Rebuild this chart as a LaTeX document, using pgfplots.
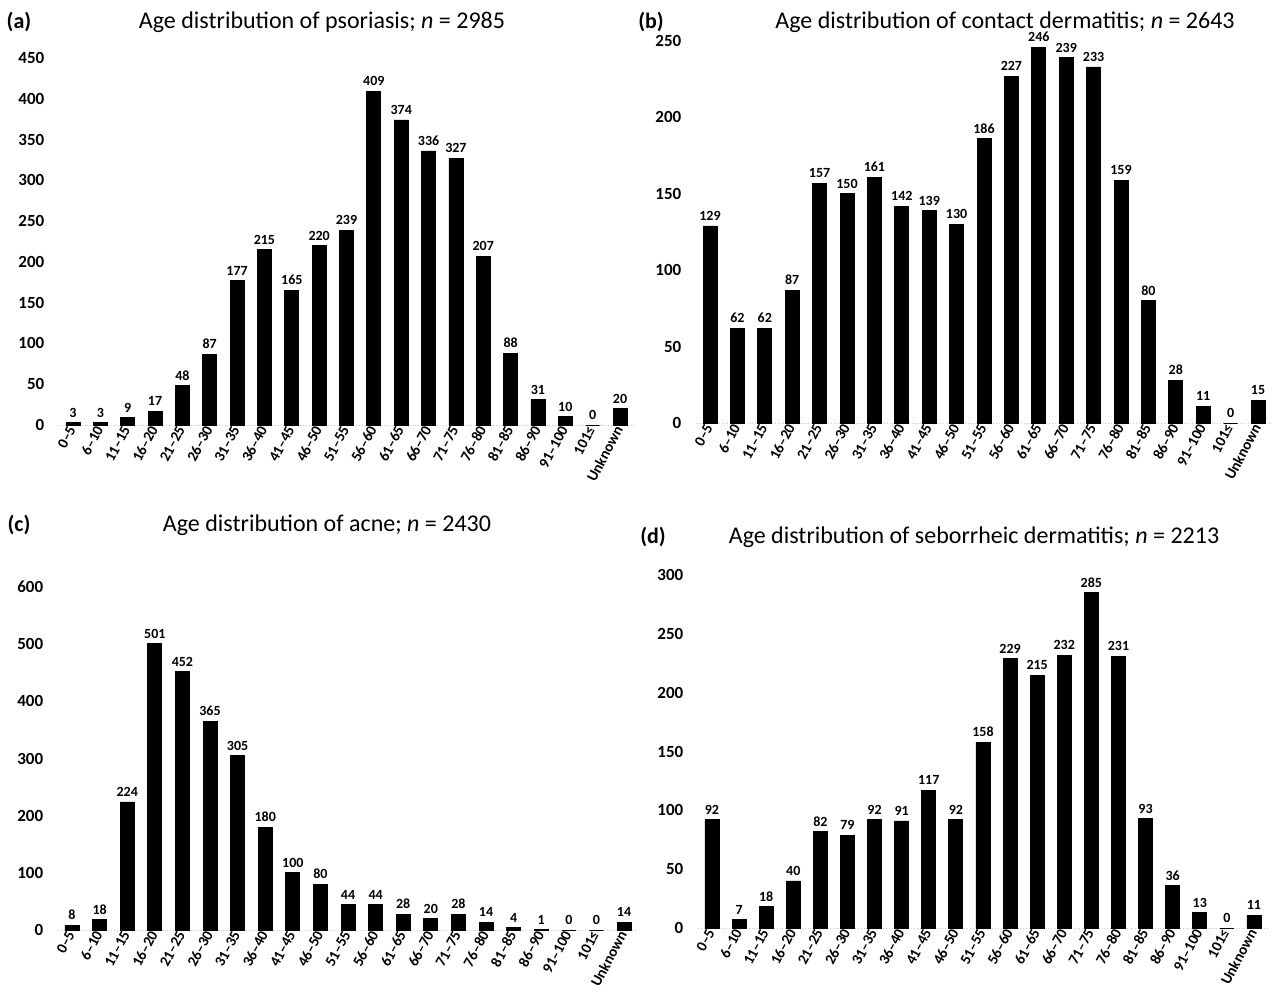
\documentclass[border=0pt]{standalone}
\usepackage{fontspec}
\setmainfont{Carlito}
\usepackage{pgfplots}
\pgfplotsset{compat=1.18}
\pgfplotsset{
  panel/.style={
    scale only axis,
    anchor=south west,
    xmin=-0.5, xmax=20.5, ymin=0,
    clip=false,
    axis line style={draw=none},
    major tick length=0pt,
    xtick={0,...,20},
    xticklabels={0--5,6--10,11--15,16--20,21--25,26--30,31--35,36--40,41--45,46--50,51--55,56--60,61--65,66--70,71--75,76--80,81--85,86--90,91--100,101≤,Unknown},
    xticklabel style={rotate=62, anchor=east, font=\bfseries\fontsize{7.5}{8}\selectfont, inner sep=1pt},
    yticklabel style={font=\bfseries\fontsize{8.5}{9}\selectfont},
    /pgf/number format/assume math mode=true,
    /pgf/number format/1000 sep={},
    yticklabel style={xshift=-4pt},
    nodes near coords,
    every node near coord/.append style={font=\bfseries\fontsize{7}{7.5}\selectfont, inner sep=2.5pt},
  },
  blackbar/.style={ybar, bar width=7pt, fill=black, draw=black, bar shift=0pt},
}
\begin{document}
\begin{tikzpicture}
\useasboundingbox (0,0) rectangle (638.5pt,-496.5pt);
% (a)
\begin{axis}[panel, at={(29.65pt,-212.5pt)}, width=287.2pt, height=183.5pt, ymax=450, ytick={0,50,...,450}]
\draw[gray!40, densely dotted] (axis cs:-0.5,0) -- (axis cs:20.5,0);
\addplot[blackbar] coordinates {(0,3)(1,3)(2,9)(3,17)(4,48)(5,87)(6,177)(7,215)(8,165)(9,220)(10,239)(11,409)(12,374)(13,336)(14,327)(15,207)(16,88)(17,31)(18,10)(19,0)(20,20)};
\end{axis}
% (b)
\begin{axis}[panel, at={(348.15pt,-211.5pt)}, width=287.7pt, height=191pt, ymax=250, ytick={0,50,...,250}]
\draw[gray!40, densely dotted] (axis cs:-0.5,0) -- (axis cs:20.5,0);
\addplot[blackbar] coordinates {(0,129)(1,62)(2,62)(3,87)(4,157)(5,150)(6,161)(7,142)(8,139)(9,130)(10,186)(11,227)(12,246)(13,239)(14,233)(15,159)(16,80)(17,28)(18,11)(19,0)(20,15)};
\end{axis}
% (c)
\begin{axis}[panel, at={(29.1pt,-465pt)}, width=289.8pt, height=171.5pt, ymax=600, ytick={0,100,...,600}]
\draw[gray!40, densely dotted] (axis cs:-0.5,0) -- (axis cs:20.5,0);
\addplot[blackbar] coordinates {(0,8)(1,18)(2,224)(3,501)(4,452)(5,365)(6,305)(7,180)(8,100)(9,80)(10,44)(11,44)(12,28)(13,20)(14,28)(15,14)(16,4)(17,1)(18,0)(19,0)(20,14)};
\end{axis}
% (d)
\begin{axis}[panel, at={(349.2pt,-464pt)}, width=284.55pt, height=176.5pt, ymax=300, ytick={0,50,...,300}]
\draw[gray!40, densely dotted] (axis cs:-0.5,0) -- (axis cs:20.5,0);
\addplot[blackbar] coordinates {(0,92)(1,7)(2,18)(3,40)(4,82)(5,79)(6,92)(7,91)(8,117)(9,92)(10,158)(11,229)(12,215)(13,232)(14,285)(15,231)(16,93)(17,36)(18,13)(19,0)(20,11)};
\end{axis}
% titles and panel labels
\node[font=\bfseries\fontsize{11}{12}\selectfont] at (9.5pt,-11pt) {(a)};
\node[font=\bfseries\fontsize{11}{12}\selectfont] at (325.5pt,-11pt) {(b)};
\node[font=\bfseries\fontsize{11}{12}\selectfont] at (9.5pt,-262.5pt) {(c)};
\node[font=\bfseries\fontsize{11}{12}\selectfont] at (326.5pt,-268.5pt) {(d)};
\node[font=\fontsize{12}{13}\selectfont] at (161pt,-11pt) {Age distribution of psoriasis; \textit{n} = 2985};
\node[font=\fontsize{12}{13}\selectfont] at (502.5pt,-11pt) {Age distribution of contact dermatitis; \textit{n} = 2643};
\node[font=\fontsize{12}{13}\selectfont] at (163.5pt,-262.5pt) {Age distribution of acne; \textit{n} = 2430};
\node[font=\fontsize{12}{13}\selectfont] at (487pt,-268.5pt) {Age distribution of seborrheic dermatitis; \textit{n} = 2213};
\end{tikzpicture}
\end{document}
